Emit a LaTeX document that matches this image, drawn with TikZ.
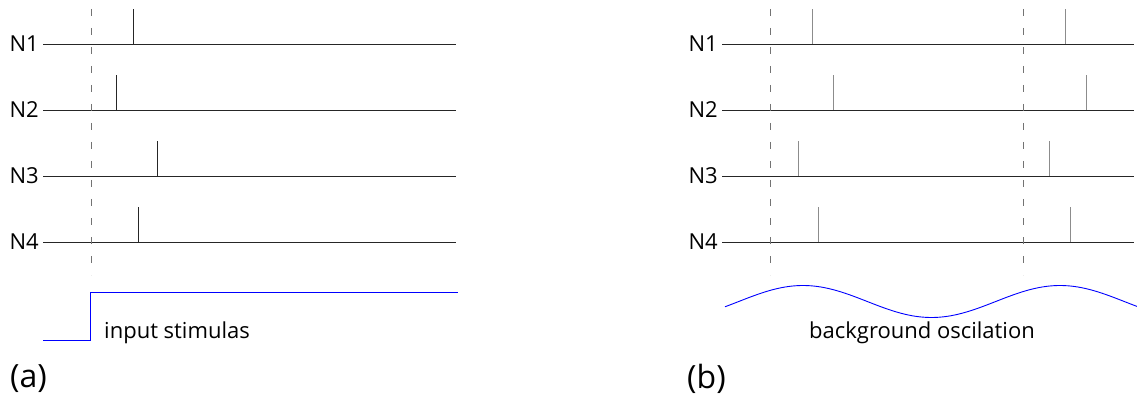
\documentclass[tikz,border=0pt]{standalone}
\usepackage{fontspec}
\setmainfont{Open Sans}
\begin{document}
\begin{tikzpicture}[x=1pt,y=-1pt,
  axis/.style={line width=0.9pt,black!85},
  spike/.style={line width=0.9pt,black!85},
  lspike/.style={line width=0.9pt,black!45},
  marker/.style={line width=0.9pt,black!55,dash pattern=on 7pt off 12pt},
  sig/.style={line width=0.9pt,blue},
  lab/.style={font=\fontsize{22}{26}\selectfont,inner sep=0pt,anchor=east},
  captext/.style={font=\fontsize{22}{26}\selectfont,inner sep=0pt},
  panel/.style={font=\fontsize{32}{38}\selectfont,inner sep=0pt,anchor=west}]
\useasboundingbox (0,0) rectangle (1137,398);
% ---------- panel (a)
\foreach \n/\y in {1/44,2/110,3/176,4/242}{
  \node[lab] (aN\n) at (39,\y) {N\n};
  \coordinate (aS\n) at (43,\y);
  \coordinate (aE\n) at (456,\y);
  \draw[axis] (aS\n) -- (aE\n);
}
\foreach \n/\x in {1/133,2/116,3/157,4/138}{
  \draw[spike] (\x,{44+66*(\n-1)}) -- ++(0,-35);
}
\coordinate (aD0) at (91,9);
\coordinate (aD1) at (91,275);
\draw[marker] (aD0) -- (aD1);
\coordinate (st0) at (43,340);
\coordinate (st1) at (90,340);
\coordinate (st2) at (90,292);
\coordinate (st3) at (458,292);
\draw[sig] (st0) -- (st1) -- (st2) -- (st3);
\node[captext,anchor=west] (inp) at (104,333) {input stimulas};
\node[panel] (pa) at (10,379) {(a)};
% ---------- panel (b)
\foreach \n/\y in {1/44,2/110,3/176,4/242}{
  \node[lab] (bN\n) at (718,\y) {N\n};
  \coordinate (bS\n) at (722,\y);
  \coordinate (bE\n) at (1134,\y);
  \draw[axis] (bS\n) -- (bE\n);
}
\foreach \n/\x/\xx in {1/812/1065,2/833/1086,3/798/1049,4/818/1070}{
  \draw[lspike] (\x,{44+66*(\n-1)}) -- ++(0,-35);
  \draw[lspike] (\xx,{44+66*(\n-1)}) -- ++(0,-35);
}
\coordinate (bD0) at (770,9);
\coordinate (bD1) at (770,275);
\coordinate (bD2) at (1023,9);
\coordinate (bD3) at (1023,275);
\draw[marker] (bD0) -- (bD1);
\draw[marker] (bD2) -- (bD3);
\draw[sig,domain=725:1137,samples=120,smooth] plot (\x,{301.5-16*cos(1.40078*(\x-803))});
\node[captext] (osc) at (922,333) {background oscilation};
\node[panel] (pb) at (687,379) {(b)};
\end{tikzpicture}
\end{document}
